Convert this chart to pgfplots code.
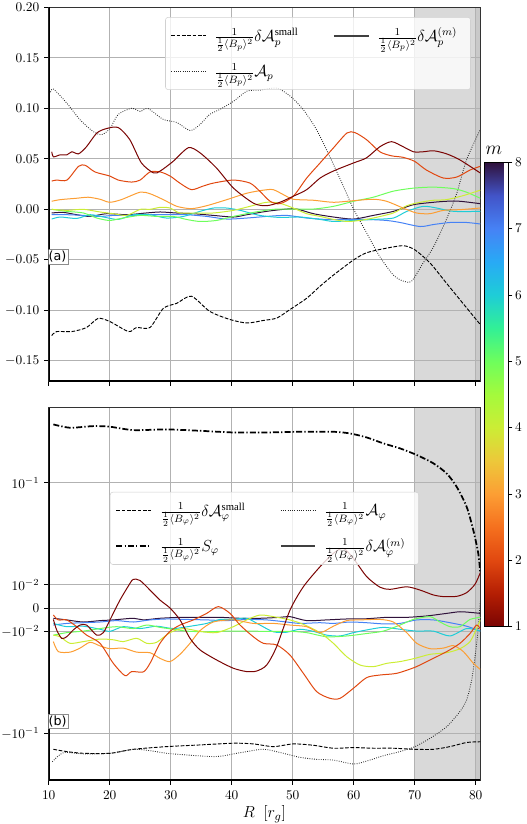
\documentclass[border=0pt]{standalone}
\usepackage{fontspec}
\setmainfont{Liberation Serif}
\newfontfamily\dejavu{DejaVu Sans}
\usepackage{pgfplots}
\pgfplotsset{compat=1.18}

\definecolor{m1}{RGB}{122,4,3}
\definecolor{m2}{RGB}{225,72,16}
\definecolor{m3}{RGB}{252,158,52}
\definecolor{m4}{RGB}{204,237,53}
\definecolor{m5}{RGB}{110,254,92}
\definecolor{m6}{RGB}{30,205,215}
\definecolor{m7}{RGB}{70,130,245}
\definecolor{m8}{RGB}{48,18,59}

\pgfplotsset{
  panel/.style={
    scale only axis, width=323.7pt, xmin=10, xmax=80.75,
    xtick={10,20,30,40,50,60,70,80},
    xtick pos=bottom, ytick pos=left,
    grid=major, grid style={color=black!30, line width=0.6pt},
    tick align=outside, major tick length=3.5pt,
    tick style={black, line width=0.6pt},
    axis line style={black!80, line width=0.6pt},
    ticklabel style={font=\fontsize{10}{11}\selectfont},
    set layers, clip=true,
    legend cell align=left,
    legend image code/.code={\draw[##1] (0pt,0pt) -- (26pt,0pt);},
  },
  mline/.style={line width=0.75pt, smooth, tension=0.45, forget plot},
  dsh/.style={black, line width=0.7pt, dash pattern=on 2.8pt off 1.2pt},
  dtt/.style={black!85, line width=0.65pt, dash pattern=on 0.6pt off 1.1pt},
  dshdt/.style={black, line width=1.3pt, dash pattern=on 4.5pt off 1.6pt on 1pt off 1.6pt},
  legbox/.style={fill=white, fill opacity=0.8, text opacity=1, draw opacity=1,
    draw=black!18, rounded corners=2pt, font=\fontsize{12}{14}\selectfont,
    inner xsep=4pt, inner ysep=6pt, row sep=11pt,
    nodes={inner xsep=6pt},
    /tikz/column 2/.style={column sep=20pt}},
}

\begin{document}
\begin{tikzpicture}

% ---------------- top panel (a) ----------------
\begin{axis}[panel,
  at={(36.5pt,-5.5pt)}, anchor=north west, height=280.3pt,
  ymin=-0.17, ymax=0.20,
  ytick={-0.15,-0.10,-0.05,0,0.05,0.10,0.15,0.20},
  yticklabel style={/pgf/number format/.cd, fixed, fixed zerofill, precision=2},
  xticklabels={},
  colormap={turbor}{rgb255=(122,4,3) rgb255=(180,30,3) rgb255=(225,72,16) rgb255=(245,112,30) rgb255=(252,158,52) rgb255=(237,200,58) rgb255=(204,237,53) rgb255=(164,250,60) rgb255=(110,254,92) rgb255=(50,240,150) rgb255=(30,205,215) rgb255=(40,170,245) rgb255=(70,130,245) rgb255=(66,84,200) rgb255=(48,18,59)},
  point meta min=1, point meta max=8,
  colorbar,
  colorbar style={at={(354.75pt,-121.7pt)}, anchor=north west,
    scale only axis, width=18pt, height=348.3pt,
    ytick={1,2,3,4,5,6,7,8}, ytick pos=right, yticklabel pos=right,
    tick align=outside, major tick length=3pt,
    tick style={black, line width=0.6pt},
    axis line style={black, line width=0.6pt},
    yticklabel style={font=\fontsize{10}{11}\selectfont, xshift=-1.5pt},
    title={$m$}, title style={font=\fontsize{15}{17}\selectfont, yshift=-4pt, xshift=-2pt}},
  legend columns=2,
  legend style={legbox, at={(0.978,0.974)}, anchor=north east},
]
\begin{pgfonlayer}{axis background}
\fill[black!15] (axis cs:70,-0.17) rectangle (axis cs:80.75,0.20);
\fill[black!21] (axis cs:80,-0.17) rectangle (axis cs:80.75,0.20);
\end{pgfonlayer}

\addlegendimage{dsh}
\addlegendentry{$\frac{1}{\frac{1}{2}\langle B_p\rangle^2}\delta\mathcal{A}_p^{\mathrm{small}}$}
\addlegendimage{black!75, line width=1.1pt}
\addlegendentry{$\frac{1}{\frac{1}{2}\langle B_p\rangle^2}\delta\mathcal{A}_p^{(m)}$}
\addlegendimage{dtt}
\addlegendentry{$\frac{1}{\frac{1}{2}\langle B_p\rangle^2}\mathcal{A}_p$}

% dotted A_p
\addplot[dtt, smooth, tension=0.45, forget plot] coordinates {
(10.3,0.116)(10.8,0.119)(13,0.105)(15.1,0.089)(17.3,0.077)(18.7,0.074)(20.05,0.080)(21.4,0.094)(23.6,0.100)(25,0.097)(26.3,0.0997)(28.8,0.089)(31,0.086)(33.2,0.078)(34.8,0.084)(36.4,0.094)(38.1,0.099)(40.3,0.107)(42.5,0.117)(44.6,0.118)(47.4,0.120)(49.6,0.112)(51.7,0.099)(53.9,0.079)(56.1,0.052)(58.3,0.023)(60,0)(62.1,-0.023)(64.3,-0.047)(66.5,-0.065)(68.1,-0.071)(69.5,-0.071)(71.4,-0.053)(73.1,-0.037)(75.2,-0.010)(76.9,0.016)(78.5,0.049)(80.75,0.079)};
% dashed small
\addplot[dsh, smooth, tension=0.45, forget plot] coordinates {
(10.5,-0.125)(11.3,-0.121)(13.8,-0.121)(16.2,-0.117)(18.1,-0.108)(20,-0.111)(23.1,-0.121)(24.4,-0.117)(26.6,-0.117)(28.8,-0.098)(31,-0.093)(33.4,-0.086)(36.4,-0.101)(39.7,-0.109)(42.5,-0.1125)(45.2,-0.110)(47.4,-0.1076)(49.6,-0.099)(52.3,-0.088)(54.5,-0.076)(56.7,-0.065)(60,-0.050)(62.1,-0.043)(64.9,-0.039)(68.1,-0.036)(70,-0.040)(72.5,-0.053)(75.2,-0.073)(77.9,-0.093)(80.75,-0.114)};

\addplot[m8, mline] coordinates {
(10.5,-0.0036)(12.4,-0.003)(14.6,-0.0053)(16.8,-0.007)(19.5,-0.0043)(22.8,-0.0053)(26,-0.0036)(28.3,-0.0026)(30.9,-0.0036)(33.7,-0.0043)(37,-0.006)(40.3,-0.0076)(42.5,-0.0053)(45.7,-0.002)(49,0.0003)(50.7,0.0003)(53.4,-0.0043)(56.7,-0.0076)(60,-0.0096)(63.2,-0.006)(66.5,-0.002)(69.8,0.0046)(73.1,0.007)(75.2,0.008)(77.4,0.008)(80.75,0.0056)};
\addplot[m7, mline] coordinates {
(10.5,-0.0053)(13,-0.0053)(15.7,-0.006)(18.4,-0.007)(20.6,-0.006)(23.9,-0.006)(26.6,-0.0053)(29.3,-0.0053)(32.6,-0.0053)(35.9,-0.007)(39.2,-0.0096)(42.5,-0.0086)(45.7,-0.007)(49,-0.006)(52.3,-0.0086)(55.6,-0.010)(58.9,-0.010)(62.1,-0.010)(65.4,-0.011)(67.6,-0.013)(70.9,-0.017)(73.1,-0.015)(75.8,-0.013)(78.5,-0.013)(80.75,-0.0145)};
\addplot[m6, mline] coordinates {
(10.5,-0.0096)(11.9,-0.0076)(14.6,-0.009)(16.8,-0.0053)(19,-0.0076)(21.4,-0.010)(23.9,-0.0053)(26.6,-0.0053)(29.3,-0.0086)(32.1,-0.007)(34.8,-0.002)(37,0.0013)(39.2,0.0013)(41.4,-0.001)(44.6,-0.006)(47.9,-0.008)(51.2,-0.0076)(54.5,-0.010)(56.7,-0.012)(60,-0.011)(63.2,-0.010)(66.5,-0.0086)(68.7,-0.002)(71.4,0.003)(73.6,0.0013)(76.4,-0.002)(80.75,-0.002)};
\addplot[m5, mline] coordinates {
(10.5,0)(13,-0.002)(15.7,-0.0036)(17.9,-0.0086)(20,-0.011)(22.2,-0.0086)(25,-0.006)(27.7,-0.007)(30.4,-0.007)(32.6,-0.010)(34.8,-0.012)(37.5,-0.011)(40.3,-0.007)(43.6,-0.003)(46.8,0)(50.1,0.0003)(53.4,0.0003)(56.7,0.003)(60,0.008)(63.2,0.012)(66.5,0.018)(69.8,0.021)(73.1,0.022)(76.4,0.0205)(78.5,0.017)(80.75,0.011)};
\addplot[m4, mline] coordinates {
(10.5,0)(13,-0.001)(15.7,0)(18.4,-0.0026)(20.6,-0.0043)(22.8,-0.006)(25,0)(26.6,0)(28.3,0.002)(29.9,0.0013)(31.5,-0.0036)(34.2,-0.0036)(37,-0.0036)(40.3,-0.001)(43,0.003)(45.7,0.007)(47.9,0.006)(50.1,0.0013)(52.3,-0.0043)(54.5,-0.007)(56.7,-0.010)(58.9,-0.012)(61,-0.011)(63.2,-0.0086)(66.5,-0.0036)(68.7,0.0036)(70.9,0.007)(73.1,0.009)(75.2,0.0096)(77.9,0.0135)(80.75,0.019)};
\addplot[m3, mline] coordinates {
(10.5,0.008)(11.9,0.0096)(14.6,0.011)(16.5,0.012)(18.4,0.010)(20,0.007)(21.9,0.0096)(25,0.017)(26.6,0.0155)(28.8,0.0096)(31,0.003)(33.4,0.0007)(35.9,0.0036)(39.2,0.0096)(42.5,0.016)(45.2,0.019)(46.8,0.0195)(48.5,0.0145)(50.1,0.010)(53.4,0.009)(56.7,0.007)(60,0.0086)(63.2,0.010)(65.4,0.008)(68.1,0.0013)(70.3,-0.0036)(72.5,-0.0043)(74.7,-0.001)(77.4,-0.0003)(80.75,0.0013)};
\addplot[m2, mline] coordinates {
(10.5,0.028)(11.3,0.029)(13,0.029)(14.9,0.0426)(16,0.0436)(17.6,0.037)(20,0.033)(21.4,0.029)(23.6,0.027)(25,0.029)(26.6,0.037)(28.3,0.037)(29.9,0.033)(31.5,0.026)(33.4,0.0195)(35.3,0.023)(37,0.026)(40.3,0.029)(43,0.026)(44.6,0.018)(46.3,0.008)(47.9,0.0056)(50.1,0.013)(52.3,0.031)(54.5,0.046)(56.7,0.061)(58.9,0.0756)(60.2,0.076)(62.1,0.069)(64.3,0.057)(66.2,0.053)(68.1,0.0515)(70,0.0475)(71.9,0.039)(74.7,0.031)(76.9,0.032)(79.1,0.039)(80.75,0.0426)};
\addplot[m1, mline] coordinates {
(10.5,0.057)(10.8,0.052)(11.9,0.054)(13,0.054)(13.8,0.057)(14.9,0.055)(16.2,0.062)(17.9,0.0756)(19.5,0.080)(21.4,0.081)(23.3,0.069)(25.2,0.046)(27.2,0.036)(28.3,0.038)(30.4,0.0475)(32.9,0.061)(34.8,0.056)(37.5,0.041)(40.3,0.021)(43.6,0.006)(45.7,0.0036)(47.9,0.007)(50.1,0.013)(52.3,0.0195)(54.5,0.031)(56.7,0.038)(60,0.046)(62.1,0.051)(64.3,0.062)(66.2,0.067)(68.1,0.062)(69.8,0.057)(71.4,0.057)(73.1,0.058)(75.2,0.055)(77.4,0.049)(80.75,0.036)};

\draw[black, line width=1.3pt] (rel axis cs:0,1) -- (rel axis cs:0,0) -- (rel axis cs:1,0);
\node[draw=black!45, fill=white, inner sep=1.3pt, anchor=west, font=\dejavu\fontsize{9.5}{10}\selectfont] at (rel axis cs:0,0.332) [xshift=-1.5pt] {(a)};
\end{axis}

% ---------------- bottom panel (b) ----------------
\begin{axis}[panel,
  at={(36.5pt,-305.8pt)}, anchor=north west, height=279.2pt,
  y coord trafo/.code={\pgfmathparse{(#1>0.01)*(0.2288+ln(max(abs(#1),0.01)/0.01)*0.4342945) + (#1<-0.01)*(-0.2288-ln(max(abs(#1),0.01)/0.01)*0.4342945) + (abs(#1)<=0.01)*(#1*22.88)}},
  ymin=-0.287, ymax=0.5435,
  ytick={-0.1,-0.01,0,0.01,0.1},
  yticklabels={$-10^{-1}$,$-10^{-2}$,$0$,$10^{-2}$,$10^{-1}$},
  xticklabel style={yshift=-1pt},
  xlabel={$R\ \ [r_g]$},
  xlabel style={font=\fontsize{12.5}{14}\selectfont, yshift=2pt},
  legend columns=2,
  legend style={legbox, at={(0.142,0.774)}, anchor=north west},
]
\begin{pgfonlayer}{axis background}
\fill[black!15] ({axis cs:70,0}|-{rel axis cs:0,0}) rectangle ({axis cs:80.75,0}|-{rel axis cs:0,1});
\fill[black!21] ({axis cs:80,0}|-{rel axis cs:0,0}) rectangle ({axis cs:80.75,0}|-{rel axis cs:0,1});
\end{pgfonlayer}

\addlegendimage{dsh}
\addlegendentry{$\frac{1}{\frac{1}{2}\langle B_\varphi\rangle^2}\delta\mathcal{A}_\varphi^{\mathrm{small}}$}
\addlegendimage{dtt}
\addlegendentry{$\frac{1}{\frac{1}{2}\langle B_\varphi\rangle^2}\mathcal{A}_\varphi$}
\addlegendimage{dshdt}
\addlegendentry{$\frac{1}{\frac{1}{2}\langle B_\varphi\rangle^2}S_\varphi$}
\addlegendimage{black!75, line width=1.1pt}
\addlegendentry{$\frac{1}{\frac{1}{2}\langle B_\varphi\rangle^2}\delta\mathcal{A}_\varphi^{(m)}$}

% S_phi
\addplot[dshdt, smooth, tension=0.45, forget plot] coordinates {
(10.77,0.373)(13.5,0.346)(17.32,0.359)(20.05,0.354)(23.88,0.328)(29.34,0.333)(34.81,0.323)(40.27,0.311)(45.74,0.311)(51.2,0.316)(56.67,0.316)(59.4,0.304)(62.13,0.278)(64.86,0.243)(67.6,0.217)(70.33,0.187)(73.06,0.155)(75.25,0.123)(76.89,0.091)(78.52,0.058)(79.62,0.034)(80.44,0.020)(80.75,0.0129)};
% dashed small
\addplot[dsh, smooth, tension=0.45, forget plot] coordinates {
(10.77,-0.1435)(12.95,-0.151)(15.68,-0.157)(20.05,-0.157)(23.88,-0.1435)(29.34,-0.135)(34.81,-0.130)(40.27,-0.125)(43.55,-0.127)(46.83,-0.135)(50.11,-0.127)(53.39,-0.131)(56.67,-0.140)(59.95,-0.138)(63.22,-0.140)(66.5,-0.140)(70.05,-0.1435)(73.06,-0.1435)(75.79,-0.135)(78.52,-0.123)(80.75,-0.121)};
% dotted A_phi
\addplot[dtt, smooth, tension=0.45, forget plot] coordinates {
(10.6,-0.19)(12.4,-0.155)(15.68,-0.159)(20.05,-0.157)(23.88,-0.1435)(26.61,-0.148)(29.34,-0.157)(32.62,-0.163)(37.54,-0.169)(41.37,-0.155)(45.19,-0.1435)(48.47,-0.157)(51.2,-0.172)(53.93,-0.180)(56.67,-0.183)(59.95,-0.200)(62.13,-0.187)(64.86,-0.166)(67.6,-0.151)(70.05,-0.135)(72.51,-0.112)(75.25,-0.086)(77.43,-0.061)(78.52,-0.047)(79.34,-0.030)(79.89,-0.0177)(80.33,-0.0105)(80.6,-0.0023)(80.75,0.0027)};

\addplot[m8, mline] coordinates {
(10.77,-0.0044)(12.95,-0.0051)(15.68,-0.006)(18.42,-0.0054)(20.6,-0.0051)(23.88,-0.0044)(25.52,-0.0051)(28.25,-0.0044)(31.53,-0.004)(34.81,-0.004)(38.09,-0.004)(41.37,-0.0044)(44.64,-0.0044)(47.92,-0.004)(49.56,-0.0037)(52.3,-0.0054)(55.57,-0.0051)(58.85,-0.0047)(62.13,-0.0046)(65.41,-0.004)(68.69,-0.004)(71.97,-0.0034)(75.25,-0.0023)(77.43,-0.0016)(79.62,-0.002)(80.75,-0.0023)};
\addplot[m7, mline] coordinates {
(10.77,-0.0073)(12.95,-0.0066)(15.68,-0.0063)(18.42,-0.006)(21.15,-0.0054)(23.88,-0.006)(26.61,-0.0051)(29.34,-0.0047)(32.62,-0.0049)(35.9,-0.0051)(39.18,-0.0054)(42.46,-0.0049)(45.74,-0.0051)(49.02,-0.006)(51.2,-0.0066)(54.48,-0.0063)(56.67,-0.0066)(59.4,-0.006)(62.13,-0.0063)(64.86,-0.0068)(67.6,-0.0066)(70.33,-0.0051)(73.06,-0.0051)(75.79,-0.0063)(78.52,-0.0078)(80.75,-0.0099)};
\addplot[m6, mline] coordinates {
(10.77,-0.0066)(12.95,-0.008)(15.68,-0.0078)(18.42,-0.0091)(20.05,-0.010)(22.24,-0.008)(24.97,-0.0088)(27.7,-0.0078)(30.44,-0.0088)(33.72,-0.0076)(35.9,-0.0066)(38.09,-0.0049)(40.27,-0.0049)(42.46,-0.0044)(44.64,-0.0073)(46.83,-0.0101)(49.02,-0.0102)(51.2,-0.0091)(53.39,-0.010)(55.57,-0.0109)(57.76,-0.0111)(59.95,-0.0103)(62.13,-0.0094)(64.86,-0.0083)(67.6,-0.0091)(70.33,-0.0099)(73.06,-0.0099)(75.79,-0.0111)(78.52,-0.0088)(80.75,-0.0099)};
\addplot[m5, mline] coordinates {
(10.77,-0.0109)(12.95,-0.0103)(15.68,-0.0099)(18.42,-0.0088)(21.15,-0.008)(23.88,-0.0088)(26.07,-0.0073)(28.25,-0.0083)(30.44,-0.0091)(32.62,-0.0099)(35.9,-0.0101)(39.18,-0.0099)(42.46,-0.0099)(45.74,-0.010)(49.56,-0.010)(52.3,-0.0103)(55.57,-0.0113)(58.85,-0.0111)(62.13,-0.0105)(64.86,-0.0099)(67.6,-0.0073)(69.78,-0.0049)(72.51,-0.0037)(74.15,-0.006)(75.79,-0.008)(77.43,-0.008)(79.07,-0.0049)(80.75,-0.004)};
\addplot[m4, mline] coordinates {
(10.77,-0.0109)(11.86,-0.0113)(13.5,-0.0131)(15.68,-0.0126)(18.42,-0.0119)(20.6,-0.0121)(22.24,-0.0126)(24.43,-0.0117)(26.07,-0.0131)(27.7,-0.0128)(29.89,-0.0103)(32.08,-0.0088)(34.81,-0.0100)(37.54,-0.0103)(40.27,-0.008)(42.46,-0.0051)(44.64,-0.003)(46.83,-0.0037)(49.56,-0.0051)(51.75,-0.007)(54.48,-0.0103)(56.67,-0.0131)(58.85,-0.0177)(61.04,-0.0214)(63.22,-0.0222)(65.41,-0.0206)(67.6,-0.0198)(70.05,-0.0184)(72.51,-0.0168)(75.25,-0.0162)(77.43,-0.0148)(79.07,-0.0126)(80.16,-0.0088)(80.75,-0.0051)};
\addplot[m3, mline] coordinates {
(10.77,-0.0126)(11.58,-0.0158)(13.5,-0.016)(15.14,-0.0146)(16.78,-0.0128)(18.42,-0.0139)(20.05,-0.0148)(22.24,-0.0146)(24.43,-0.016)(26.61,-0.0162)(28.25,-0.0184)(29.89,-0.0198)(31.53,-0.0168)(33.17,-0.0131)(34.81,-0.0097)(36.99,-0.006)(40.27,-0.0051)(43.55,-0.0066)(46.83,-0.0066)(49.56,-0.0073)(52.3,-0.008)(54.48,-0.0103)(56.67,-0.0078)(58.85,-0.0054)(61.04,-0.0051)(64.32,-0.0049)(66.5,-0.006)(68.69,-0.0103)(70.33,-0.0131)(72.51,-0.0148)(74.7,-0.0146)(76.34,-0.0138)(77.98,-0.0158)(79.62,-0.0206)(80.75,-0.0236)};
\addplot[m2, mline] coordinates {
(10.77,-0.003)(11.58,-0.0051)(12.95,-0.0051)(14.59,-0.008)(16.23,-0.0109)(18.42,-0.0131)(20.6,-0.0206)(22.51,-0.0272)(23.61,-0.0248)(25.52,-0.025)(26.61,-0.0206)(28.25,-0.0131)(29.89,-0.010)(31.53,-0.0073)(33.72,-0.0051)(35.9,-0.0023)(37.81,0.0006)(39.73,-0.0023)(41.37,-0.0073)(43.55,-0.0113)(45.19,-0.0131)(47.38,-0.0136)(49.56,-0.0171)(51.75,-0.0258)(53.93,-0.039)(56.12,-0.0454)(57.76,-0.0454)(59.95,-0.0362)(62.13,-0.0284)(64.32,-0.0268)(67.05,-0.0258)(70.05,-0.0225)(72.51,-0.0191)(75.25,-0.0158)(77.43,-0.0131)(79.07,-0.0105)(80.16,-0.0073)(80.75,-0.009)};
\addplot[m1, mline] coordinates {
(10.77,-0.0049)(11.31,-0.0094)(12.13,-0.0117)(12.95,-0.0113)(14.04,-0.0094)(15.14,-0.0073)(16.23,-0.0073)(17.87,-0.0109)(18.96,-0.0103)(20.05,-0.0051)(21.69,0.0034)(23.33,0.0103)(23.88,0.0113)(24.97,0.011)(26.61,0.0077)(28.25,0.0034)(29.89,0)(31.53,-0.0051)(33.17,-0.0117)(34.81,-0.0152)(37.54,-0.0191)(40.27,-0.023)(42.46,-0.0248)(44.1,-0.0245)(45.74,-0.0214)(47.38,-0.0141)(49.56,-0.0009)(51.75,0.0091)(54.48,0.015)(56.67,0.0203)(58.31,0.0227)(59.95,0.0181)(62.13,0.012)(64.32,0.0089)(65.96,0.008)(68.69,0.0091)(70.87,0.0077)(73.06,0.0056)(74.7,0.0049)(76.89,0.005)(78.52,0.0066)(79.89,0.0101)(80.75,0.0131)};

\draw[black, line width=1.3pt] (rel axis cs:0,1) -- (rel axis cs:0,0) -- (rel axis cs:1,0);
\node[draw=black!45, fill=white, inner sep=1.3pt, anchor=west, font=\dejavu\fontsize{9.5}{10}\selectfont] at (rel axis cs:0,0.158) [xshift=-1.5pt] {(b)};
\end{axis}

\pgfresetboundingbox
\path[use as bounding box] (0,0) rectangle (394.5pt,-618pt);
\end{tikzpicture}
\end{document}
